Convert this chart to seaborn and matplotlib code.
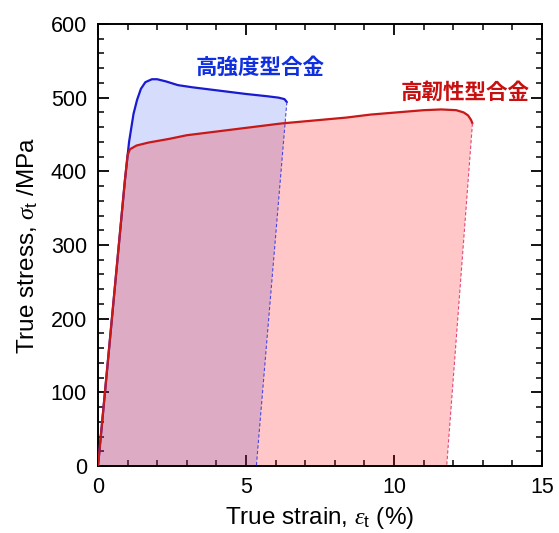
import numpy as np
import pandas as pd
import seaborn as sns
import matplotlib.pyplot as plt
from matplotlib.ticker import MultipleLocator

# 高強度型合金 (high strength)
hs_strain = [0, 0.5, 0.91, 1.05, 1.2, 1.32, 1.45, 1.6, 1.82, 2.0, 2.3, 2.7, 3.2, 4.0, 5.0, 5.7, 6.1, 6.3, 6.38]
hs_stress = [0, 213, 388, 440, 478, 497, 512, 521, 525, 525, 522, 517, 514, 510, 505, 502, 500, 498, 494]
hs_unload = 5.35

# 高韌性型合金 (high toughness)
ht_strain = [0, 0.5, 0.91, 1.0, 1.08, 1.3, 1.7, 2.4, 3.0, 4.0, 5.0, 6.2, 7.3, 8.4, 9.2, 10.1, 11.0, 11.6, 12.1, 12.35, 12.5, 12.6, 12.65]
ht_stress = [0, 213, 388, 422, 430, 435, 439, 444, 449, 454, 459, 465, 469, 473, 477, 480, 483, 484, 483, 480, 476, 470, 465]
ht_unload = 11.78

label_hs = '高強度型合金'
label_ht = '高韌性型合金'

sns.set_theme(style='ticks')
plt.rcParams['font.family'] = ['Liberation Sans', 'Noto Sans CJK JP', 'DejaVu Sans']
plt.rcParams['mathtext.fontset'] = 'custom'
plt.rcParams['mathtext.rm'] = 'Liberation Sans'
plt.rcParams['mathtext.sf'] = 'Liberation Sans'
plt.rcParams['mathtext.it'] = 'Liberation Serif:italic'

fig = plt.figure(figsize=(5.59, 5.33), dpi=100)
ax = fig.add_axes([0.1753, 0.1257, 0.7943, 0.8293])

blue_line = '#1a1ad0'
red_line = '#c81818'

df_hs = pd.DataFrame({'strain': hs_strain, 'stress': hs_stress})
df_ht = pd.DataFrame({'strain': ht_strain, 'stress': ht_stress})

# fills (curve + unloading line back to zero)
ax.fill(hs_strain + [hs_unload], hs_stress + [0], color='#3050f0', alpha=0.2, lw=0, zorder=1)
ax.fill(ht_strain + [ht_unload], ht_stress + [0], color='red', alpha=0.22, lw=0, zorder=2)

sns.lineplot(data=df_hs, x='strain', y='stress', sort=False, color=blue_line, lw=1.6, ax=ax, zorder=3)
sns.lineplot(data=df_ht, x='strain', y='stress', sort=False, color=red_line, lw=1.6, ax=ax, zorder=4)

# unloading lines
ax.plot([hs_strain[-1], hs_unload], [hs_stress[-1], 0], color='#4848e0', lw=0.8, ls=(0, (3, 2)), zorder=3)
ax.plot([ht_strain[-1], ht_unload], [ht_stress[-1], 0], color='#e04878', lw=0.8, ls=(0, (3, 2)), zorder=4)

ax.text(5.47, 541, label_hs, color='#1030e0', fontsize=15.5, fontweight='bold',
        family=['Noto Sans CJK JP'], ha='center', va='center')
ax.text(12.4, 507, label_ht, color='#c81010', fontsize=15.5, fontweight='bold',
        family=['Noto Sans CJK JP'], ha='center', va='center')

ax.set_xlim(0, 15)
ax.set_ylim(0, 600)
ax.xaxis.set_major_locator(MultipleLocator(5))
ax.xaxis.set_minor_locator(MultipleLocator(1))
ax.yaxis.set_major_locator(MultipleLocator(100))
ax.yaxis.set_minor_locator(MultipleLocator(20))
ax.tick_params(which='both', direction='in', top=True, right=True, colors='black', labelsize=15.5)
ax.tick_params(which='major', length=8, width=1.3, pad=8)
ax.tick_params(which='minor', length=4.5, width=1.1)
for s in ax.spines.values():
    s.set_color('black')
    s.set_linewidth(1.4)

ax.set_xlabel(r'True strain, $\varepsilon_{\mathrm{t}}$ (%)', fontsize=17.5, color='black', labelpad=5)
ax.set_ylabel(r'True stress, $\sigma_{\mathrm{t}}$ /MPa', fontsize=17.5, color='black', labelpad=8)

fig.savefig('out.png', dpi=100)
